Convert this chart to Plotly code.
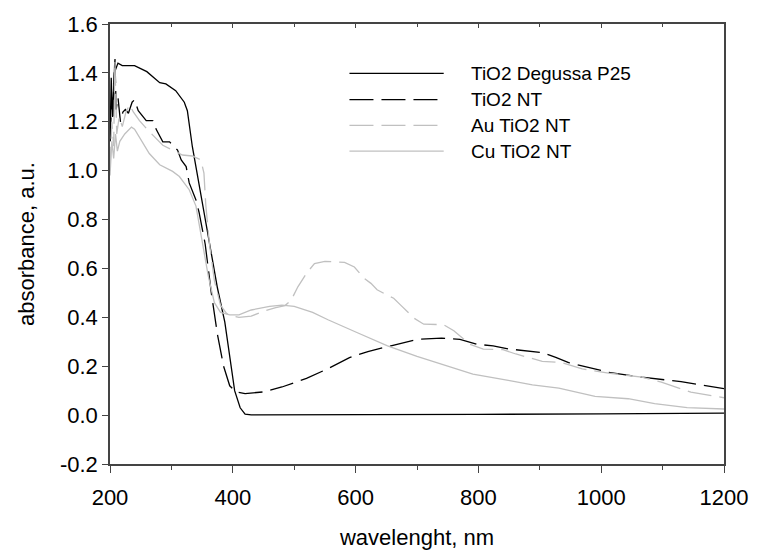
import plotly.graph_objects as go

# ---------------- data ----------------
p25_x = [200, 202, 204, 207, 210, 213, 220, 240, 260, 281, 291, 307, 321, 326, 334, 345, 355,
         365, 375, 387, 396, 403, 412, 420, 430, 500, 600, 800, 1000, 1100, 1200]
p25_y = [1.12, 1.38, 1.22, 1.40, 1.42, 1.44, 1.43, 1.43, 1.405, 1.36, 1.355, 1.327, 1.28, 1.245,
         1.10, 0.94, 0.80, 0.65, 0.52, 0.38, 0.22, 0.10, 0.03, 0.004, 0.001, 0.001, 0.002,
         0.003, 0.005, 0.006, 0.008]

nt_x = [200, 203, 205, 208, 210, 213, 217, 221, 225, 230, 236, 240, 246, 259, 270, 275, 286,
        297, 310, 316, 324, 329, 340, 345, 355, 365, 375, 385, 395, 405, 420, 450, 480, 520,
        555, 590, 620, 656, 700, 740, 770, 797, 824, 851, 904, 926, 947, 1012, 1066, 1130, 1200]
nt_y = [1.12, 1.30, 1.22, 1.47, 1.25, 1.30, 1.20, 1.24, 1.25, 1.235, 1.28, 1.29, 1.245, 1.205,
        1.205, 1.17, 1.118, 1.118, 1.084, 1.044, 1.017, 0.95, 0.88, 0.83, 0.70, 0.50, 0.33,
        0.20, 0.12, 0.095, 0.088, 0.095, 0.115, 0.15, 0.19, 0.235, 0.26, 0.283, 0.31, 0.315,
        0.31, 0.29, 0.283, 0.27, 0.256, 0.236, 0.215, 0.175, 0.155, 0.137, 0.108]

au_x = [200, 203, 206, 208, 211, 215, 220, 226, 232, 238, 248, 262, 286, 302, 318, 334, 348,
        353, 356, 362, 370, 380, 390, 400, 410, 430, 450, 470, 485, 495, 506, 520, 533, 550,
        582, 598, 614, 625, 635, 652, 662, 673, 695, 711, 743, 760, 786, 808, 840, 861, 904,
        936, 969, 1012, 1066, 1098, 1146, 1200]
au_y = [1.00, 1.20, 1.10, 1.45, 1.15, 1.22, 1.18, 1.24, 1.27, 1.24, 1.205, 1.165, 1.104, 1.084,
        1.064, 1.06, 1.044, 0.99, 0.86, 0.70, 0.55, 0.45, 0.415, 0.405, 0.40, 0.405, 0.425,
        0.44, 0.448, 0.47, 0.525, 0.58, 0.62, 0.629, 0.625, 0.606, 0.559, 0.539, 0.513, 0.49,
        0.478, 0.451, 0.397, 0.372, 0.37, 0.345, 0.29, 0.27, 0.268, 0.25, 0.22, 0.215, 0.189,
        0.172, 0.155, 0.135, 0.094, 0.071]

cu_x = [200, 203, 206, 209, 212, 216, 224, 235, 240, 248, 264, 281, 302, 313, 329, 340, 350,
        360, 370, 380, 395, 410, 430, 460, 480, 500, 530, 555, 603, 652, 700, 732, 791, 851,
        888, 931, 974, 990, 1044, 1087, 1140, 1200]
cu_y = [0.98, 1.12, 1.05, 1.15, 1.08, 1.12, 1.15, 1.178, 1.17, 1.138, 1.07, 1.024, 0.997, 0.976,
        0.922, 0.855, 0.72, 0.57, 0.46, 0.42, 0.41, 0.41, 0.43, 0.445, 0.45, 0.445, 0.42, 0.39,
        0.337, 0.283, 0.24, 0.215, 0.168, 0.141, 0.124, 0.11, 0.088, 0.077, 0.067, 0.047,
        0.031, 0.025]

series_names = ["TiO2 Degussa P25", "TiO2 NT", "Au TiO2 NT", "Cu TiO2 NT"]
x_ticks = [200, 400, 600, 800, 1000, 1200]
y_ticks = [-0.2, 0.0, 0.2, 0.4, 0.6, 0.8, 1.0, 1.2, 1.4, 1.6]
y_tick_labels = ["-0.2", "0.0", "0.2", "0.4", "0.6", "0.8", "1.0", "1.2", "1.4", "1.6"]

# ---------------- styles ----------------
FONT = "Liberation Sans, Arial, sans-serif"
BLACK = "#000000"
GRAY = "#c0c0c0"
DASH = "24px,8px"
styles = [(BLACK, "solid"), (BLACK, DASH), (GRAY, DASH), (GRAY, "solid")]
data = [(p25_x, p25_y), (nt_x, nt_y), (au_x, au_y), (cu_x, cu_y)]

fig = go.Figure()
for (xs, ys), name, (col, dash) in zip(data, series_names, styles):
    fig.add_trace(go.Scatter(x=xs, y=ys, mode="lines", name=name, showlegend=False,
                             line=dict(color=col, width=1.3, dash=dash)))

# manual legend (long line samples as in the reference)
leg_rows = [0.8878, 0.8279, 0.7695, 0.7112]
for name, (col, dash), yy in zip(series_names, styles, leg_rows):
    fig.add_shape(type="line", xref="paper", yref="paper", x0=0.390, x1=0.5435, y0=yy, y1=yy,
                  line=dict(color=col, width=1.3, dash=dash))
    fig.add_annotation(xref="paper", yref="paper", x=0.5839, y=yy, text=name, showarrow=False,
                       xanchor="left", yanchor="middle", font=dict(family=FONT, size=19, color=BLACK))

AXC = "#444444"
fig.update_layout(
    width=760, height=558,
    margin=dict(l=110, r=30, t=24, b=88),
    paper_bgcolor="white", plot_bgcolor="white",
    font=dict(family=FONT, size=22, color=BLACK),
    xaxis=dict(range=[200, 1200], tickvals=x_ticks, ticks="outside", ticklen=7, tickwidth=1.2,
               tickcolor=AXC, showline=True, linecolor=AXC, linewidth=1.5, mirror=True,
               showgrid=False, zeroline=False, tickfont=dict(size=22),
               ticklabeloverflow="allow", ticklabelstandoff=6,
               minor=dict(dtick=100, ticks="outside", ticklen=4, tickcolor=AXC, tickwidth=1.2),
               title=dict(text="wavelenght, nm", font=dict(size=22), standoff=20)),
    xaxis2=dict(range=[200, 1200], overlaying="x", side="top", tickvals=x_ticks,
                ticks="inside", ticklen=4, tickwidth=1.2, tickcolor=AXC, showticklabels=False,
                showgrid=False, zeroline=False, showline=False,
                minor=dict(dtick=100, ticks="inside", ticklen=3, tickcolor=AXC, tickwidth=1.2)),
    yaxis=dict(range=[-0.2, 1.6], tickvals=y_ticks, ticktext=y_tick_labels, ticks="outside",
               ticklen=6, tickwidth=1.2, tickcolor=AXC, showline=True, linecolor=AXC,
               linewidth=1.5, mirror=True, showgrid=False, zeroline=False,
               tickfont=dict(size=22), ticklabeloverflow="allow",
               title=dict(text="absorbance, a.u.", font=dict(size=22), standoff=19)),
)
# invisible trace to keep the top axis drawn
fig.add_trace(go.Scatter(x=[200, 1200], y=[None, None], xaxis="x2", mode="lines",
                         showlegend=False, hoverinfo="skip"))

# remove the browser's default 8px body margin so the figure sits at the page origin
fig.write_html("out.html", config={"displayModeBar": False},
               post_script="document.body.style.margin='0px';")
